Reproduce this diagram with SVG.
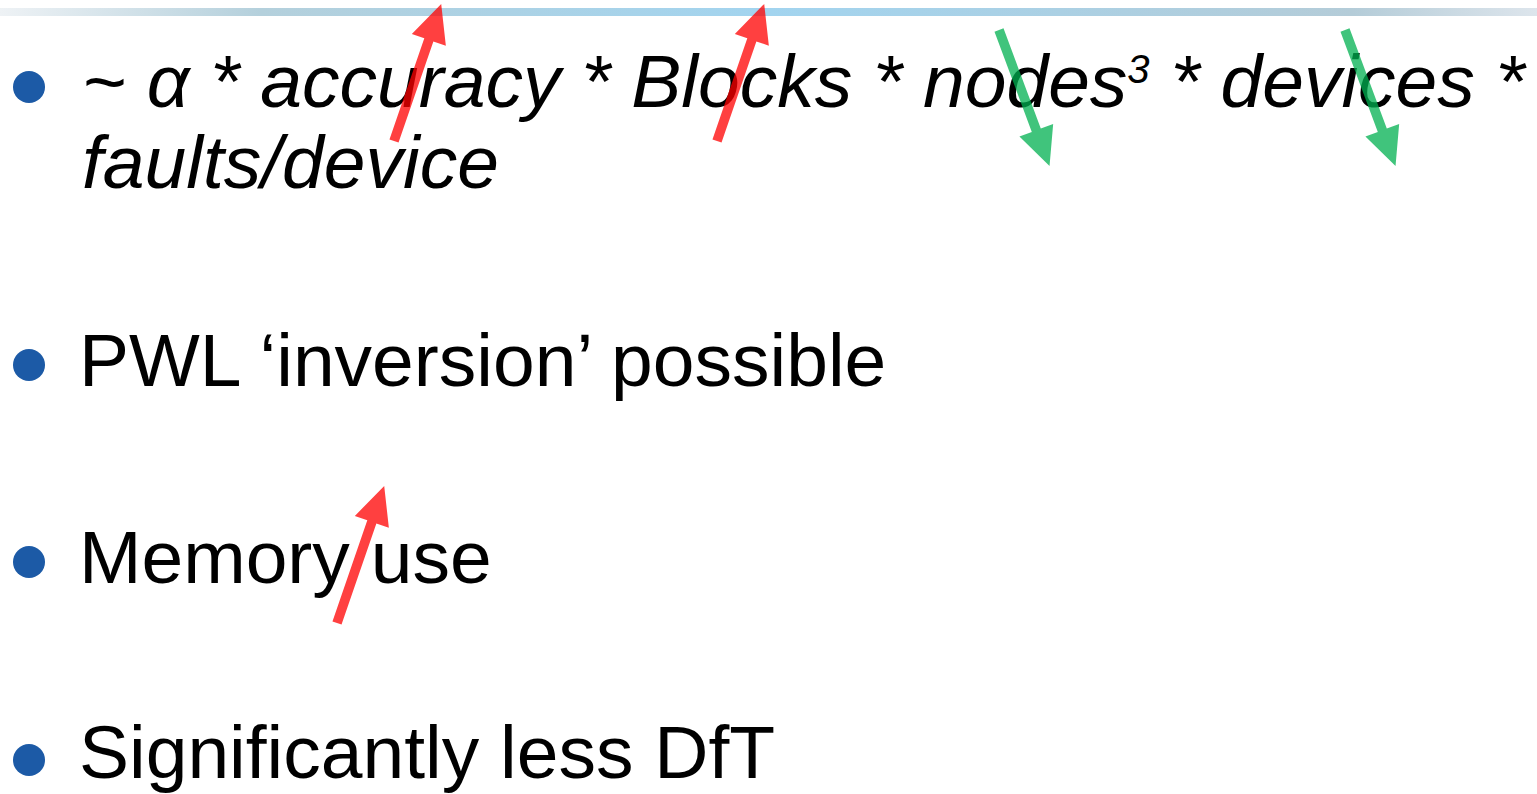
<svg xmlns="http://www.w3.org/2000/svg" width="1537" height="794" viewBox="0 0 1537 794">
<style>
.t{font-family:"Liberation Sans",Arial,sans-serif;font-size:75px;fill:#000}
.i{font-style:italic}
.b{fill:#1c5aa6}
.red{fill:#ff0000;fill-opacity:0.75}
.grn{fill:#00b050;fill-opacity:0.75}
</style>
<defs>
<linearGradient id="band" x1="0" y1="0" x2="1" y2="0">
<stop offset="0" stop-color="#eef2f5"/>
<stop offset="0.17" stop-color="#b4d0dc"/>
<stop offset="0.5" stop-color="#a2d4ef"/>
<stop offset="0.88" stop-color="#b4ccd8"/>
<stop offset="1" stop-color="#dde5ec"/>
</linearGradient>
<path id="arr" d="M0,-4.8 L107,-4.8 L107,-18 L145,0 L107,18 L107,4.8 L0,4.8 Z"/>
</defs>
<rect x="0" y="8" width="1537" height="8" fill="url(#band)"/>
<g id="item1">
<circle class="b" cx="29" cy="87" r="16"/>
<text class="t i" x="82" y="107">~ α  * accuracy * Blocks * nodes<tspan font-size="40" dy="-24">3</tspan><tspan dy="24"> * devices *</tspan></text>
<text class="t i" x="82" y="188">faults/device</text>
</g>
<g id="item2">
<circle class="b" cx="29" cy="365" r="16"/>
<text class="t" x="79" y="386">PWL ‘inversion’ possible</text>
</g>
<g id="item3">
<circle class="b" cx="29" cy="562" r="16"/>
<text class="t" x="79" y="583">Memory use</text>
</g>
<g id="item4">
<circle class="b" cx="29" cy="760" r="16"/>
<text class="t" x="79" y="778">Significantly less DfT</text>
</g>
<g id="connectors">
<use href="#arr" class="red" transform="translate(394,141) rotate(-71)"/>
<use href="#arr" class="red" transform="translate(717,141) rotate(-71)"/>
<use href="#arr" class="red" transform="translate(337,623) rotate(-71)"/>
<use href="#arr" class="grn" transform="translate(999,30) rotate(69.6)"/>
<use href="#arr" class="grn" transform="translate(1345,30) rotate(69.6)"/>
</g>
</svg>
